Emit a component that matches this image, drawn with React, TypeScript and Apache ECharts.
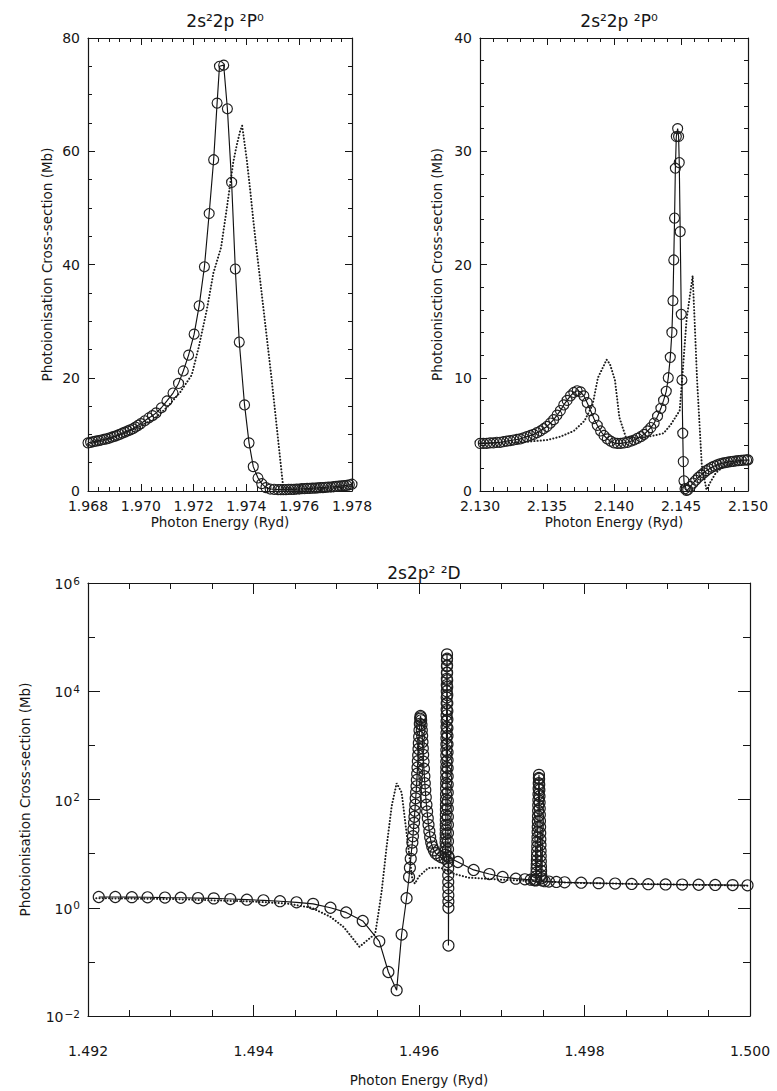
import React, { useEffect, useRef } from "react";
import * as echarts from "echarts";

const FONT = "DejaVu Sans, Liberation Sans, sans-serif";

// ---------- Panel 1 : 2s²2p ²P⁰ (1.968 – 1.978 Ryd) ----------
const p1Title = "2s²2p ²P⁰";
const p1YName = "Photoionisation Cross-section (Mb)";
const p1Circles: number[][] = [
  [1.968, 8.5], [1.9681, 8.6], [1.9682, 8.7], [1.9683, 8.8], [1.9684, 8.9], [1.9685, 9.0],
  [1.9686, 9.1], [1.9687, 9.2], [1.9688, 9.35], [1.9689, 9.5], [1.969, 9.65], [1.9691, 9.8],
  [1.9692, 10.0], [1.9693, 10.2], [1.9694, 10.4], [1.9695, 10.6], [1.9696, 10.8], [1.9697, 11.0],
  [1.9698, 11.3], [1.9699, 11.6], [1.97, 11.9], [1.97015, 12.4], [1.9703, 12.9], [1.97044, 13.3],
  [1.97058, 13.8], [1.97078, 14.7], [1.97099, 15.9], [1.97122, 17.3], [1.97143, 19.0], [1.97161, 21.2],
  [1.97181, 24.0], [1.97202, 27.7], [1.97221, 32.7], [1.97241, 39.6], [1.97259, 49.0], [1.97276, 58.5],
  [1.97289, 68.5], [1.97298, 75.0], [1.97314, 75.2], [1.97328, 67.5], [1.97344, 54.5], [1.97358, 39.2],
  [1.97373, 26.3], [1.97393, 15.2], [1.9741, 8.5], [1.97426, 4.3], [1.97444, 2.3], [1.97458, 1.3],
  [1.97474, 0.6], [1.9749, 0.35], [1.97505, 0.3], [1.9752, 0.25], [1.9753, 0.25], [1.9754, 0.25],
  [1.9755, 0.25], [1.9756, 0.3], [1.9757, 0.3], [1.9758, 0.3], [1.9759, 0.35], [1.976, 0.35],
  [1.9761, 0.4], [1.9762, 0.4], [1.9763, 0.45], [1.9764, 0.45], [1.9765, 0.5], [1.9766, 0.5],
  [1.9767, 0.55], [1.9768, 0.6], [1.9769, 0.6], [1.977, 0.65], [1.9771, 0.7], [1.9772, 0.7],
  [1.9773, 0.75], [1.9774, 0.8], [1.9775, 0.85], [1.9776, 0.9], [1.9777, 0.95], [1.9778, 1.0],
  [1.9779, 1.1], [1.978, 1.2],
];
const p1Dotted: number[][] = [
  [1.968, 8.3], [1.969, 9.4], [1.97, 11.5], [1.9705, 12.7], [1.971, 14.8], [1.9715, 17.5],
  [1.97193, 20.5], [1.9722, 25.5], [1.9725, 32.0], [1.97275, 38.5], [1.97304, 43.0], [1.97325, 49.7],
  [1.9735, 58.0], [1.97363, 61.0], [1.97376, 63.5], [1.97384, 64.5], [1.97401, 58.7], [1.97414, 53.3],
  [1.97426, 47.9], [1.97436, 43.7], [1.97496, 19.6], [1.9754, 0.4], [1.976, 0.2], [1.977, 0.4],
  [1.978, 0.9],
];
const p1XTicks = { min: 1.968, max: 1.978, interval: 0.002 };
const p1YTicks = { min: 0, max: 80, interval: 20 };

// ---------- Panel 2 : 2s²2p ²P⁰ (2.130 – 2.150 Ryd) ----------
const p2Title = "2s²2p ²P⁰";
const p2YName = "Photoionisction Cross-section (Mb)";
const p2Circles: number[][] = [
  [2.13, 4.2], [2.13025, 4.2], [2.1305, 4.2], [2.13075, 4.25], [2.131, 4.25], [2.13125, 4.3],
  [2.1315, 4.3], [2.13175, 4.35], [2.132, 4.4], [2.13225, 4.45], [2.1325, 4.5], [2.13275, 4.55],
  [2.133, 4.6], [2.13325, 4.7], [2.1335, 4.8], [2.13375, 4.9], [2.134, 5.0], [2.13425, 5.15],
  [2.1345, 5.3], [2.13475, 5.5], [2.135, 5.7], [2.13525, 6.0], [2.1355, 6.3], [2.13575, 6.7],
  [2.136, 7.1], [2.13625, 7.6], [2.1365, 8.0], [2.13675, 8.4], [2.137, 8.7], [2.13725, 8.85],
  [2.1375, 8.75], [2.13775, 8.4], [2.138, 7.8], [2.13825, 7.1], [2.1385, 6.4], [2.13875, 5.8],
  [2.139, 5.3], [2.13925, 4.9], [2.1395, 4.6], [2.13975, 4.4], [2.14, 4.25], [2.14025, 4.2],
  [2.1405, 4.2], [2.14075, 4.25], [2.141, 4.3], [2.14125, 4.4], [2.1415, 4.5], [2.14175, 4.65],
  [2.142, 4.8], [2.14225, 5.0], [2.1425, 5.3], [2.14275, 5.6], [2.143, 6.0], [2.14325, 6.6],
  [2.1435, 7.3], [2.1437, 8.0], [2.1439, 8.8], [2.14405, 10.0], [2.1442, 11.8], [2.14432, 14.0],
  [2.1444, 16.8], [2.14446, 20.4], [2.14452, 24.1], [2.14458, 28.5], [2.14465, 31.3], [2.14475, 32.0],
  [2.14482, 31.3], [2.14487, 29.0], [2.14494, 22.9], [2.14502, 15.6], [2.14507, 9.8], [2.14513, 5.1],
  [2.14517, 2.6], [2.14522, 0.9], [2.1453, 0.2], [2.1454, 0.05], [2.1455, 0.1], [2.1457, 0.4],
  [2.1459, 0.7], [2.1461, 0.95], [2.1463, 1.2], [2.1465, 1.4], [2.1467, 1.6], [2.1469, 1.8],
  [2.1471, 1.95], [2.1473, 2.1], [2.1475, 2.2], [2.1477, 2.3], [2.1479, 2.4], [2.1481, 2.45],
  [2.1483, 2.5], [2.1485, 2.55], [2.1487, 2.6], [2.1489, 2.62], [2.1491, 2.65], [2.1493, 2.68],
  [2.1495, 2.7], [2.1497, 2.72], [2.1499, 2.74], [2.15, 2.75],
];
const p2Dotted: number[][] = [
  [2.13, 4.2], [2.133, 4.3], [2.135, 4.5], [2.136, 4.8], [2.137, 5.3], [2.1378, 6.2],
  [2.1384, 7.6], [2.1388, 10.0], [2.13945, 11.6], [2.1397, 11.2], [2.14007, 9.8], [2.1404, 6.5],
  [2.1409, 4.7], [2.142, 4.7], [2.143, 4.9], [2.1437, 5.1], [2.1442, 5.8], [2.1449, 7.1],
  [2.1451, 10.1], [2.14542, 15.2], [2.14587, 19.0], [2.146, 15.5], [2.1462, 9.8], [2.14655, 2.3],
  [2.1469, 0.1], [2.1472, 0.8], [2.1476, 1.6], [2.1482, 2.2], [2.149, 2.5], [2.15, 2.7],
];
const p2XTicks = { min: 2.13, max: 2.15, interval: 0.005 };
const p2YTicks = { min: 0, max: 40, interval: 10 };

// ---------- Panel 3 : 2s2p² ²D (1.492 – 1.500 Ryd, log scale) ----------
const p3Title = "2s2p² ²D";
const p3YName = "Photoionisation Cross-section (Mb)";
const p3CirclesBackground: number[][] = [
  [1.49213, 1.58], [1.49233, 1.58], [1.49253, 1.57], [1.49272, 1.56], [1.49293, 1.54], [1.49312, 1.53],
  [1.49333, 1.51], [1.49352, 1.49], [1.49372, 1.45], [1.49392, 1.41], [1.49412, 1.37], [1.49432, 1.32],
  [1.49452, 1.26], [1.49472, 1.18], [1.49493, 1.0], [1.49512, 0.82], [1.49532, 0.57], [1.49552, 0.24],
  [1.49563, 0.065], [1.49573, 0.03], [1.49579, 0.32], [1.49585, 1.5],
];
const p3CirclesPeak1: number[][] = [
  [1.49588, 3.7], [1.49589, 5.5], [1.4959, 8.0], [1.49591, 11.5], [1.49592, 16], [1.495927, 21],
  [1.495933, 28], [1.49594, 37], [1.495945, 48], [1.49595, 62], [1.495955, 80], [1.49596, 105],
  [1.495965, 135], [1.49597, 175], [1.495974, 230], [1.495978, 300], [1.495982, 390], [1.495986, 510],
  [1.49599, 660], [1.495994, 860], [1.495998, 1100], [1.496002, 1450], [1.496006, 1900], [1.49601, 2500],
  [1.496014, 3100], [1.496018, 3500], [1.496022, 3300], [1.496026, 2900], [1.49603, 2400], [1.496034, 1900],
  [1.496038, 1500], [1.496042, 1150], [1.496046, 880], [1.49605, 670], [1.496055, 500], [1.49606, 370],
  [1.496065, 270], [1.49607, 200], [1.496076, 150], [1.496082, 110], [1.49609, 80], [1.496098, 60],
  [1.496106, 45], [1.496115, 34], [1.496125, 26], [1.496135, 20], [1.496148, 16], [1.49616, 13.5],
  [1.49618, 11.5], [1.4962, 10.2], [1.49623, 9.3], [1.49627, 8.6], [1.49631, 8.1],
];
const p3CirclesSpike2: number[][] = [
  [1.49632, 9.5], [1.4963205, 11], [1.496321, 13], [1.4963215, 16], [1.496322, 19], [1.4963225, 23],
  [1.496323, 28], [1.4963235, 34], [1.496324, 42], [1.4963245, 52], [1.496325, 65], [1.4963255, 80],
  [1.496326, 100], [1.4963265, 125], [1.496327, 160], [1.4963275, 200], [1.496328, 250], [1.4963285, 320],
  [1.496329, 400], [1.4963295, 500], [1.49633, 650], [1.4963305, 820], [1.496331, 1050], [1.4963315, 1350],
  [1.496332, 1700], [1.4963325, 2200], [1.496333, 2800], [1.4963335, 3600], [1.496334, 4600], [1.4963345, 6000],
  [1.496335, 7700], [1.4963355, 10000], [1.496336, 13000], [1.4963365, 17000], [1.496337, 22000],
  [1.4963375, 29000], [1.496338, 38000], [1.4963385, 48000], [1.496339, 40000], [1.4963395, 30000],
  [1.49634, 22000], [1.4963405, 16000], [1.496341, 12000], [1.4963415, 8500], [1.496342, 6000],
  [1.4963425, 4300], [1.496343, 3000], [1.4963435, 2100], [1.496344, 1500], [1.4963445, 1050],
  [1.496345, 750], [1.4963455, 530], [1.496346, 380], [1.4963465, 270], [1.496347, 190], [1.4963475, 135],
  [1.496348, 95], [1.4963485, 68], [1.496349, 48], [1.4963495, 34], [1.49635, 24], [1.4963505, 17],
  [1.496351, 12], [1.4963515, 9], [1.496352, 7], [1.4963525, 5.3], [1.496353, 4], [1.4963535, 3],
  [1.496354, 2.3], [1.4963545, 1.7], [1.496355, 1.3], [1.4963555, 1.0], [1.496356, 0.2], [1.49636, 8.5],
];
const p3CirclesSpike3: number[][] = [
  [1.49647, 7.0], [1.49666, 5.0], [1.49685, 4.2], [1.49701, 3.7], [1.49717, 3.45], [1.49728, 3.35],
  [1.49735, 3.3], [1.49739, 3.25], [1.49741, 3.2], [1.497415, 3.3], [1.497418, 3.8], [1.49742, 4.5],
  [1.4974215, 5.3], [1.497423, 6.3], [1.4974245, 7.5], [1.497426, 9], [1.4974275, 11], [1.497429, 13.5],
  [1.4974305, 16.5], [1.497432, 20], [1.4974335, 25], [1.497435, 31], [1.4974365, 39], [1.497438, 49],
  [1.4974395, 62], [1.497441, 78], [1.4974425, 98], [1.497444, 125], [1.4974455, 160], [1.497447, 200],
  [1.4974485, 250], [1.49745, 285], [1.4974515, 240], [1.497453, 190], [1.4974545, 150], [1.497456, 115],
  [1.4974575, 88], [1.497459, 68], [1.4974605, 52], [1.497462, 40], [1.4974635, 31], [1.497465, 24],
  [1.4974665, 18.5], [1.497468, 14.5], [1.4974695, 11.3], [1.497471, 9], [1.4974725, 7.2], [1.497474, 5.8],
  [1.4974755, 4.8], [1.497477, 4.0], [1.49748, 3.5], [1.49749, 3.2], [1.49752, 3.1], [1.49757, 3.05],
  [1.49766, 3.0], [1.49776, 2.95], [1.49796, 2.9], [1.49817, 2.85], [1.49837, 2.8], [1.49857, 2.75],
  [1.49877, 2.72], [1.49898, 2.7], [1.49918, 2.68], [1.49938, 2.66], [1.49958, 2.64], [1.49979, 2.62],
  [1.49997, 2.6],
];
const p3Dotted: number[][] = [
  [1.4921, 1.5], [1.493, 1.45], [1.494, 1.3], [1.4944, 1.2], [1.4947, 1.0], [1.49493, 0.68],
  [1.49509, 0.44], [1.49528, 0.19], [1.49547, 0.33], [1.49551, 0.8], [1.49555, 2.1], [1.49561, 14],
  [1.49567, 76], [1.49573, 200], [1.49579, 135], [1.49585, 24], [1.49592, 3.3], [1.49595, 2.8],
  [1.496, 3.8], [1.49611, 5.4], [1.49626, 5.5], [1.49643, 4.2], [1.4966, 3.6], [1.497, 3.3],
  [1.4975, 3.05], [1.498, 2.85], [1.499, 2.7], [1.5, 2.55],
];
const p3XTicks = { min: 1.492, max: 1.5, interval: 0.002 };
const p3YTicks = { min: 0.01, max: 1e6 };

const xName = "Photon Energy (Ryd)";

const INK = "#161616";
const logLabel = (v: number) => {
  const e = Math.round(Math.log10(v));
  return "{b|10}{s|" + String(e).replace("-", "−") + "}";
};

const tickText = { color: INK, fontFamily: FONT, fontSize: 14 };
const nameText = { color: INK, fontFamily: FONT, fontSize: 13.5 };

function xAxisPair(grid: number, t: { min: number; max: number; interval: number }, minorSplit: number,
  majorLen: number, minorLen: number, labelMargin: number, nameGap: number) {
  const common = {
    type: "value", gridIndex: grid, min: t.min, max: t.max, interval: t.interval,
    axisLine: { show: true, onZero: false, lineStyle: { color: INK, width: 1.2 } },
    axisTick: { show: true, inside: true, length: majorLen, lineStyle: { color: INK, width: 1 } },
    minorTick: { show: true, splitNumber: minorSplit, length: minorLen, lineStyle: { color: INK, width: 1 } },
    splitLine: { show: false }, minorSplitLine: { show: false },
  };
  return [
    {
      ...common, position: "bottom",
      axisLabel: { ...tickText, margin: labelMargin, showMinLabel: true, showMaxLabel: true, formatter: (v: number) => v.toFixed(3) },
      name: xName, nameLocation: "middle", nameGap, nameTextStyle: { ...nameText },
    },
    { ...common, position: "top", axisLabel: { show: false } },
  ];
}

function yAxisPair(grid: number, t: { min: number; max: number; interval: number }, minorSplit: number,
  name: string, nameGap: number) {
  const common = {
    type: "value", gridIndex: grid, min: t.min, max: t.max, interval: t.interval,
    axisLine: { show: true, onZero: false, lineStyle: { color: INK, width: 1.2 } },
    axisTick: { show: true, inside: true, length: 7, lineStyle: { color: INK, width: 1 } },
    minorTick: { show: true, splitNumber: minorSplit, length: 4, lineStyle: { color: INK, width: 1 } },
    splitLine: { show: false }, minorSplitLine: { show: false },
  };
  return [
    {
      ...common, position: "left",
      axisLabel: { ...tickText, margin: 8, showMinLabel: true, showMaxLabel: true },
      name, nameLocation: "middle", nameGap, nameTextStyle: { ...nameText },
    },
    { ...common, position: "right", axisLabel: { show: false } },
  ];
}

function logAxes(grid: number, name: string, nameGap: number) {
  const common = {
    type: "log", logBase: 10, gridIndex: grid, min: p3YTicks.min, max: p3YTicks.max,
    splitLine: { show: false }, minorSplitLine: { show: false }, minorTick: { show: false },
  };
  const major = {
    ...common, interval: 2,
    axisLine: { show: true, onZero: false, lineStyle: { color: INK, width: 1.2 } },
    axisTick: { show: true, inside: true, length: 12, lineStyle: { color: INK, width: 1 } },
  };
  const minor = {
    ...common, interval: 1,
    axisLine: { show: false },
    axisTick: { show: true, inside: true, length: 7, lineStyle: { color: INK, width: 1 } },
    axisLabel: { show: false },
  };
  return [
    {
      ...major, position: "left",
      axisLabel: {
        ...tickText, margin: 8, showMinLabel: true, showMaxLabel: true, formatter: logLabel,
        rich: {
          b: { color: INK, fontFamily: FONT, fontSize: 14, verticalAlign: "bottom", lineHeight: 16 },
          s: { color: INK, fontFamily: FONT, fontSize: 10.5, verticalAlign: "top", lineHeight: 16, padding: [0, 0, 7, 1] },
        },
      },
      name, nameLocation: "middle", nameGap, nameTextStyle: { ...nameText },
    },
    { ...major, position: "right", axisLabel: { show: false } },
    { ...minor, position: "left" },
    { ...minor, position: "right" },
  ];
}

function dotted(xi: number, yi: number, data: number[][]) {
  return {
    type: "line", xAxisIndex: xi, yAxisIndex: yi, data, symbol: "none", showSymbol: false, silent: true,
    lineStyle: { color: "#1c1c1c", width: 2, type: [0.1, 3.1], cap: "round" }, z: 2,
  };
}
function circles(xi: number, yi: number, data: number[][], size: number) {
  return {
    type: "line", xAxisIndex: xi, yAxisIndex: yi, data, symbol: "circle", symbolSize: size, showSymbol: true,
    silent: true, clip: true,
    itemStyle: { color: "rgba(0,0,0,0)", borderColor: "#1e1e1e", borderWidth: 1.15 },
    lineStyle: { color: "#111", width: 1.15 }, z: 3,
  };
}

export default function App() {
  const ref = useRef<HTMLDivElement>(null);
  useEffect(() => {
    document.body.style.margin = "0";
    if (!ref.current) return;
    const chart = echarts.init(ref.current, undefined, { renderer: "svg" });
    const titleStyle = { color: INK, fontFamily: FONT, fontSize: 17, fontWeight: "normal" };
    const p3All = [...p3CirclesBackground, ...p3CirclesPeak1, ...p3CirclesSpike2, ...p3CirclesSpike3];
    chart.setOption({
      animation: false,
      backgroundColor: "#fff",
      title: [
        { text: p1Title, left: 220, top: 7, textAlign: "center", textStyle: titleStyle },
        { text: p2Title, left: 614, top: 7, textAlign: "center", textStyle: titleStyle },
        { text: p3Title, left: 419, top: 559, textAlign: "center", textStyle: titleStyle },
      ],
      grid: [
        { left: 88, top: 38, width: 264, height: 453, show: false, outerBoundsMode: "none" },
        { left: 480, top: 38, width: 268, height: 453, show: false, outerBoundsMode: "none" },
        { left: 88, top: 583, width: 662, height: 433, show: false, outerBoundsMode: "none" },
      ],
      xAxis: [
        ...xAxisPair(0, p1XTicks, 5, 7, 4, 8, 24),
        ...xAxisPair(1, p2XTicks, 5, 7, 4, 8, 24),
        ...xAxisPair(2, p3XTicks, 4, 11, 6, 28, 57),
      ],
      yAxis: [
        ...yAxisPair(0, p1YTicks, 4, p1YName, 34),
        ...yAxisPair(1, p2YTicks, 5, p2YName, 36),
        ...logAxes(2, p3YName, 56),
      ],
      series: [
        dotted(0, 0, p1Dotted), circles(0, 0, p1Circles, 10),
        dotted(2, 2, p2Dotted), circles(2, 2, p2Circles, 10),
        dotted(4, 4, p3Dotted), circles(4, 4, p3All, 11),
      ],
    });
    return () => chart.dispose();
  }, []);
  return <div ref={ref} style={{ width: 777, height: 1091 }} />;
}
